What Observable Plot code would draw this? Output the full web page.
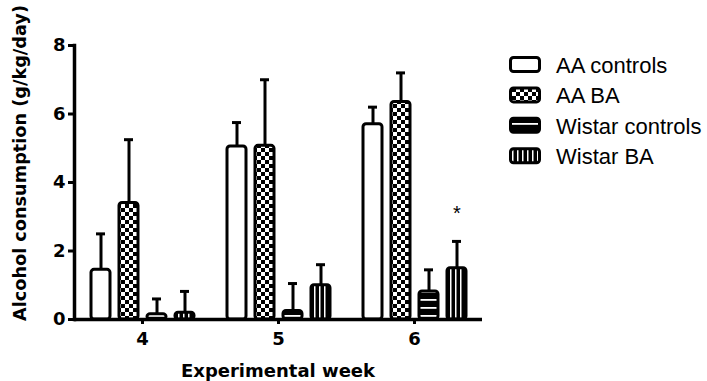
<!DOCTYPE html>
<html>
<head>
<meta charset="utf-8">
<script src="https://cdn.jsdelivr.net/npm/d3@7"></script>
<script src="https://cdn.jsdelivr.net/npm/@observablehq/plot@0.6"></script>
<style>
  html, body { margin: 0; padding: 0; background: white; }
</style>
</head>
<body>
<div id="chart"></div>
<script>
const weeks = [4, 5, 6];
const groups = ["AA controls", "AA BA", "Wistar controls", "Wistar BA"];
const meanAAcontrols = [1.45, 5.05, 5.7];
const meanAABA = [3.4, 5.07, 6.35];
const meanWistarControls = [0.15, 0.25, 0.82];
const meanWistarBA = [0.2, 1.0, 1.5];
const upperAAcontrols = [2.5, 5.75, 6.2];
const upperAABA = [5.25, 7.0, 7.2];
const upperWistarControls = [0.6, 1.05, 1.45];
const upperWistarBA = [0.82, 1.6, 2.28];
const yTicks = [0, 2, 4, 6, 8];
const significance = [{week: 6, group: "Wistar BA", label: "*"}];
const xTitle = "Experimental week";
const yTitle = "Alcohol consumption (g/kg/day)";

const means = [meanAAcontrols, meanAABA, meanWistarControls, meanWistarBA];
const uppers = [upperAAcontrols, upperAABA, upperWistarControls, upperWistarBA];
const data = [];
weeks.forEach((w, i) => groups.forEach((g, j) => data.push({week: w, group: g, mean: means[j][i], upper: uppers[j][i]})));
const stars = significance.map(s => ({...s, upper: data.find(d => d.week === s.week && d.group === s.group).upper}));

const fills = ["white", "url(#pat-checker)", "url(#pat-hlines)", "url(#pat-vlines)"];

const svg = Plot.plot({
  width: 707,
  height: 381,
  marginLeft: 73,
  marginRight: 224,
  marginTop: 45,
  marginBottom: 62,
  style: {fontFamily: "DejaVu Sans", fontWeight: "bold", fontSize: "18px", background: "white", color: "black", overflow: "visible"},
  fx: {domain: weeks, padding: 0, label: null},
  x: {domain: groups, axis: null, paddingInner: 0.33, paddingOuter: 0.52},
  y: {domain: [0, 8], label: null},
  color: {domain: groups, range: fills},
  marks: [
    Plot.barY(data, {fx: "week", x: "group", y: "mean", fill: "group", stroke: "black", strokeWidth: 3, rx: 3}),
    Plot.ruleX(data, {fx: "week", x: "group", y1: "mean", y2: "upper", stroke: "black", strokeWidth: 3}),
    Plot.tickY(data, {fx: "week", x: "group", y: "upper", stroke: "black", strokeWidth: 3, insetLeft: 5, insetRight: 5}),
    Plot.ruleY([0], {stroke: "black", strokeWidth: 3.5}),
    Plot.frame({anchor: "left", stroke: "black", strokeWidth: 3.5, facetAnchor: "left"}),
    Plot.axisY({ticks: yTicks, tickSize: 6, tickPadding: 3, strokeWidth: 3, label: null, facetAnchor: "left",
      fontSize: 18, fontWeight: "bold", fontFamily: "DejaVu Sans"}),
    Plot.axisFx({anchor: "bottom", tickSize: 5, tickPadding: 8, strokeWidth: 3, label: null,
      fontSize: 18, fontWeight: "bold", fontFamily: "DejaVu Sans"}),
    Plot.text(stars, {fx: "week", x: "group", y: "upper", text: "label", dy: -28, fontFamily: "Liberation Sans", fontWeight: "normal", fontSize: 20})
  ]
});

const s = d3.select(svg);
const defs = s.insert("defs", ":first-child");
const pc = defs.append("pattern").attr("id", "pat-checker").attr("patternUnits", "userSpaceOnUse").attr("width", 8).attr("height", 8);
pc.append("rect").attr("width", 8).attr("height", 8).attr("fill", "white");
pc.append("rect").attr("width", 4).attr("height", 4).attr("fill", "black");
pc.append("rect").attr("x", 4).attr("y", 4).attr("width", 4).attr("height", 4).attr("fill", "black");
const ph = defs.append("pattern").attr("id", "pat-hlines").attr("patternUnits", "userSpaceOnUse").attr("width", 8).attr("height", 8);
ph.append("rect").attr("width", 8).attr("height", 8).attr("fill", "black");
ph.append("rect").attr("y", 3).attr("width", 8).attr("height", 1.8).attr("fill", "white");
const pv = defs.append("pattern").attr("id", "pat-vlines").attr("patternUnits", "userSpaceOnUse").attr("width", 5).attr("height", 8);
pv.append("rect").attr("width", 5).attr("height", 8).attr("fill", "black");
pv.append("rect").attr("x", 2).attr("width", 1.5).attr("height", 8).attr("fill", "white");

// axis titles
s.append("text").attr("transform", "translate(26,163) rotate(-90)")
  .attr("text-anchor", "middle").attr("font-family", "DejaVu Sans").attr("font-weight", "bold")
  .attr("font-size", 17.7).attr("fill", "black").text(yTitle);
s.append("text").attr("x", 278).attr("y", 377)
  .attr("text-anchor", "middle").attr("font-family", "DejaVu Sans").attr("font-weight", "bold")
  .attr("font-size", 18).attr("fill", "black").text(xTitle);

// legend
const lg = s.append("g").attr("aria-label", "legend");
groups.forEach((g, i) => {
  const cy = 64.5 + i * 30.4;
  lg.append("rect").attr("x", 510.5).attr("y", cy - 7).attr("width", 29).attr("height", 14).attr("rx", 3)
    .attr("fill", fills[i]).attr("stroke", "black").attr("stroke-width", 3);
  lg.append("text").attr("x", 556).attr("y", cy + 8.5).attr("text-anchor", "start").attr("font-family", "Liberation Sans")
    .attr("font-weight", "normal").attr("font-size", 22).attr("fill", "black").text(g);
});

document.getElementById("chart").append(svg);
</script>
</body>
</html>
